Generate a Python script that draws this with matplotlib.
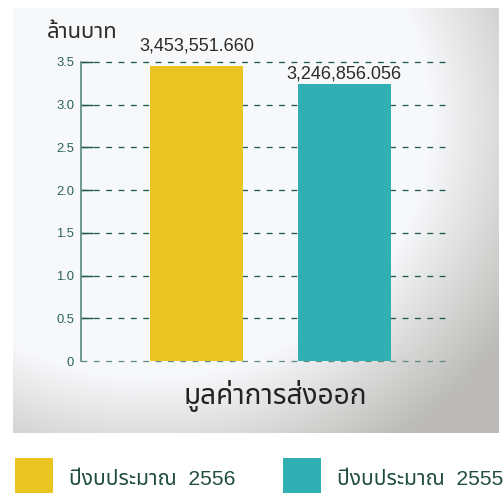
import numpy as np
import matplotlib
matplotlib.use('Agg')
import matplotlib.pyplot as plt
from matplotlib.patches import Rectangle

# ── data ────────────────────────────────────────────────────────────────────
years = ['ปีงบประมาณ  2556', 'ปีงบประมาณ  2555']
export_values = [3453551.660, 3246856.056]     # shown as bar labels
bar_colors = ['#EAC420', '#30B0B3']
y_ticks = [0, 0.5, 1.0, 1.5, 2.0, 2.5, 3.0, 3.5]
y_tick_labels = ['0', '0.5', '1.0', '1.5', '2.0', '2.5', '3.0', '3.5']
label_pads = [15, 5]

W, H = 504, 493
THAI = ['Liberation Sans', 'Noto Sans Thai', 'DejaVu Sans']
NUM = ['Liberation Sans', 'DejaVu Sans']


def fx(x):
    return x / W


def fy(y):
    return 1 - y / H


fig = plt.figure(figsize=(W / 72, H / 72), dpi=72)
fig.patch.set_facecolor('white')

# ── grey gradient panel ───────────────────────────────────────────────────────
p_left, p_top, p_right, p_bot = 13, 8, 499, 433
bg = fig.add_axes([fx(p_left), fy(p_bot), (p_right - p_left) / W, (p_bot - p_top) / H])
px = np.arange(p_left, p_right) + 0.5
py = np.arange(p_top, p_bot) + 0.5
X, Y = np.meshgrid(px, py)
d = np.sqrt(((X - 150) / 360) ** 2 + ((Y - 120) / 330) ** 2)
t = np.clip((d - 0.78) / 0.4, 0, 1)[..., None]
light = np.array([247, 248, 250]) / 255
dark = np.array([188, 187, 184]) / 255
bg.imshow(light * (1 - t) + dark * t, aspect='auto', interpolation='bilinear')
bg.set_axis_off()

# ── bar chart ────────────────────────────────────────────────────────────────
ax = fig.add_axes([fx(81), fy(361), (445 - 81) / W, (361 - 62) / H])
ax.set_facecolor('none')

heights = [v / 1e6 for v in export_values]
xs = np.arange(len(heights))
ax.bar(xs, heights, width=0.63, color=bar_colors, zorder=3)
ax.set_xlim(-0.78, 1.68)
ax.set_ylim(0, 3.5)

for x, h, v, pad in zip(xs, heights, export_values, label_pads):
    ax.annotate(f'{v:,.3f}', xy=(x, h), xytext=(0, pad), textcoords='offset points',
                ha='center', va='baseline', fontsize=18, family=NUM, color='#2b2b2b',
                zorder=4)

ax.set_yticks(y_ticks)
ax.set_yticklabels(y_tick_labels, family=['Liberation Sans', 'DejaVu Sans'],
                   fontsize=13, color='#2c6356')
ax.set_xticks([])
ax.tick_params(axis='y', direction='in', length=12, width=1.4, color='#1e5446', pad=7)
ax.yaxis.get_major_ticks()[0].tick1line.set_visible(False)

ax.grid(axis='y', color='#1e5a4a', linestyle=(0, (4.5, 5)), linewidth=1.3, zorder=1)
for gl in ax.get_ygridlines():
    gl.set_clip_on(False)
ax.get_ygridlines()[0].set_color('#5f8d85')

for s in ['top', 'right', 'bottom']:
    ax.spines[s].set_visible(False)
ax.spines['left'].set_color('#4f8277')
ax.spines['left'].set_linewidth(1.6)

# ── texts ────────────────────────────────────────────────────────────────────
fig.text(fx(47), fy(38), 'ล้านบาท', family=THAI, fontsize=22, color='#2b2b2b', va='baseline')
fig.text(fx(275), fy(404), 'มูลค่าการส่งออก', family=THAI, fontsize=28, color='#222222',
         ha='center', va='baseline')

# ── legend ───────────────────────────────────────────────────────────────────
for lx, name, c in zip([15, 283], years, bar_colors):
    fig.add_artist(Rectangle((fx(lx), 0), 38 / W, 35 / H, transform=fig.transFigure,
                             color=c, lw=0))
    fig.text(fx(lx + 54), fy(485), name, family=THAI, fontsize=21, color='#1f4d42',
             va='baseline')

fig.savefig('out.png', dpi=72)
